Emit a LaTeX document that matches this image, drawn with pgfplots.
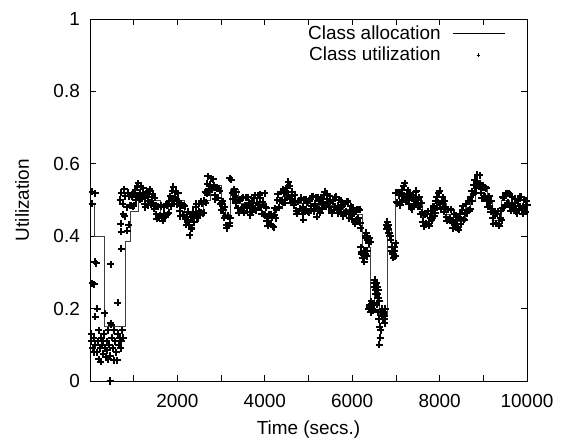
\documentclass[border=0pt]{standalone}
\usepackage{fontspec}
\setmainfont{Liberation Sans}
\usepackage{pgfplots}
\pgfplotsset{compat=1.18}
\newcommand{\ff}{\fontsize{19}{22}\selectfont}
\pgfplotsset{
  myleglinestyle/.style={legend image code/.code={\draw[black,line width=0.7bp] (0bp,0bp) -- (52bp,0bp);}},
  mylegmarkstyle/.style={legend image code/.code={\draw[black,mark=+,mark size=1.8bp,mark options={line width=0.7bp}] plot coordinates {(26bp,0bp)};}}
}
\begin{document}
\ff
\begin{tikzpicture}
\useasboundingbox (0,0) rectangle (565bp,445bp);
\begin{axis}[
  at={(90bp,64bp)}, anchor=south west,
  scale only axis, width=437bp, height=362bp,
  xmin=0, xmax=10000, ymin=0, ymax=1,
  scaled x ticks=false,
  xtick={1000,2000,...,10000},
  xticklabels={,2000,,4000,,6000,,8000,,10000},
  ytick={0,0.2,0.4,0.6,0.8,1},
  yticklabels={0,0.2,0.4,0.6,0.8,1},
  tick align=inside, tick pos=both,
  major tick length=6bp,
  axis line style={line width=0.8bp},
  every tick/.style={black, line width=0.8bp},
  tick label style={font=\ff, inner sep=0pt},
  /pgf/number format/assume math mode=true,
  xticklabel shift=13bp, yticklabel shift=10bp,
  xlabel={Time (secs.)}, ylabel={Utilization},
  label style={font=\ff},
  xlabel style={at={(axis description cs:0.5,-0.135)}, anchor=center},
  ylabel style={at={(axis description cs:-0.1556,0.5)}, anchor=center},
  legend style={draw=none, fill=none, at={(0.950,0.990)}, anchor=north east,
    font=\ff, nodes={inner sep=2.5bp}, column sep=9bp, row sep=0pt, inner sep=0pt},
  legend plot pos=right,
  legend cell align=right,
  clip=false,
]
\addplot[const plot, black!75, line width=0.7bp, myleglinestyle]
coordinates {
(0,0.49) (98,0.40) (327,0.15) (817,0.385) (915,0.47) (1100,0.51) (1400,0.50)
(1600,0.46) (1800,0.49) (2000,0.50) (2150,0.46) (2400,0.47) (2600,0.50)
(2750,0.54) (3000,0.48) (3100,0.46) (3219,0.53) (3400,0.49) (3800,0.49)
(4004,0.45) (4250,0.48) (4400,0.51) (4700,0.49) (5000,0.485) (5500,0.485)
(5800,0.475) (6000,0.46) (6231,0.37) (6407,0.19) (6510,0.245) (6620,0.18)
(6803,0.417) (6900,0.353) (6994,0.518) (7300,0.50) (7596,0.44) (7850,0.49)
(8150,0.46) (8250,0.44) (8600,0.48) (8700,0.50) (8809,0.55) (8950,0.53)
(9100,0.50) (9200,0.445) (9404,0.50) (9600,0.485) (10000,0.485)
};
\addlegendentry{Class allocation}
\addplot[only marks, mark=+, mark size=3.5bp, mark options={black, line width=2bp}, mylegmarkstyle]
table {
x y
46 0.523
121 0.518
46 0.49
107 0.33
145 0.325
473 0.322
46 0.27
92 0.267
168 0.20
122 0.178
335 0.187
640 0.216
717 0.366
700 0.434
717 0.412
855 0.415
885 0.431
458 0.0
23 0.13
23 0.11
60 0.09
90 0.12
120 0.10
150 0.08
180 0.11
200 0.14
230 0.09
245 0.053
260 0.12
280 0.10
300 0.075
320 0.13
340 0.09
360 0.065
380 0.11
400 0.085
420 0.14
440 0.10
460 0.07
473 0.16
490 0.155
500 0.12
520 0.09
540 0.057
560 0.14
580 0.11
600 0.08
620 0.057
640 0.13
660 0.10
680 0.12
700 0.09
720 0.11
740 0.14
760 0.12
200 0.06
100 0.08
300 0.11
420 0.06
690 0.50
720 0.52
750 0.49
780 0.53
810 0.51
840 0.48
870 0.52
760 0.46
800 0.455
900 0.510
933 0.485
967 0.509
1000 0.485
1033 0.527
1067 0.513
1100 0.546
1133 0.500
1167 0.537
1200 0.503
1233 0.516
1267 0.480
1300 0.514
1333 0.498
1367 0.529
1400 0.487
1433 0.517
1467 0.476
1500 0.486
1533 0.448
1567 0.481
1600 0.456
1633 0.486
1667 0.442
1700 0.480
1733 0.458
1767 0.486
1800 0.465
1833 0.511
1867 0.499
1900 0.536
1933 0.489
1967 0.523
2000 0.488
2033 0.496
2067 0.455
2100 0.484
2133 0.459
2167 0.483
2200 0.432
2233 0.467
2267 0.431
2288 0.403
2300 0.446
2333 0.422
2367 0.467
2400 0.456
2433 0.489
2467 0.449
2500 0.490
2533 0.465
2567 0.489
2600 0.465
2633 0.521
2667 0.519
2700 0.566
2733 0.522
2767 0.560
2800 0.528
2833 0.539
2867 0.502
2900 0.534
2933 0.506
2967 0.526
3000 0.472
3033 0.497
3067 0.451
3100 0.456
3133 0.422
3167 0.457
3200 0.436
3203 0.560
3233 0.556
3267 0.502
3300 0.530
3333 0.491
3367 0.503
3400 0.465
3433 0.501
3467 0.479
3500 0.506
3533 0.465
3567 0.507
3600 0.478
3633 0.493
3667 0.458
3700 0.494
3733 0.479
3767 0.513
3800 0.472
3833 0.513
3867 0.485
3900 0.506
3933 0.462
3967 0.487
4000 0.456
4004 0.518
4033 0.479
4067 0.429
4100 0.460
4133 0.431
4167 0.453
4200 0.425
4233 0.477
4267 0.473
4300 0.516
4333 0.479
4367 0.523
4400 0.498
4433 0.519
4467 0.492
4500 0.534
4538 0.550
4533 0.513
4567 0.539
4600 0.492
4633 0.523
4667 0.485
4700 0.496
4733 0.462
4767 0.497
4800 0.476
4833 0.506
4867 0.462
4881 0.445
4900 0.500
4933 0.471
4967 0.493
5000 0.465
5033 0.502
5067 0.483
5100 0.511
5110 0.510
5133 0.469
5167 0.508
5187 0.454
5200 0.478
5233 0.496
5267 0.465
5300 0.504
5333 0.489
5367 0.523
5400 0.482
5433 0.517
5467 0.481
5500 0.496
5533 0.463
5567 0.501
5600 0.481
5633 0.509
5667 0.464
5700 0.500
5733 0.468
5767 0.486
5800 0.455
5833 0.491
5867 0.469
5900 0.496
5933 0.449
5967 0.483
6000 0.448
6033 0.466
6067 0.435
6100 0.474
6133 0.449
6167 0.473
6190 0.422
6200 0.37
6220 0.35
6240 0.34
6260 0.36
6280 0.33
6300 0.35
6330 0.345
6350 0.36
6300 0.40
6320 0.41
6350 0.39
6380 0.38
6400 0.395
6420 0.385
6380 0.20
6400 0.21
6420 0.19
6440 0.22
6460 0.20
6480 0.195
6500 0.21
6500 0.26
6520 0.28
6540 0.24
6560 0.27
6580 0.23
6600 0.25
6620 0.22
6560 0.21
6590 0.19
6610 0.17
6630 0.15
6640 0.12
6620 0.10
6650 0.14
6670 0.19
6690 0.20
6700 0.17
6720 0.185
6740 0.16
6760 0.20
6780 0.43
6800 0.44
6820 0.41
6840 0.42
6860 0.40
6880 0.39
6900 0.37
6920 0.35
6940 0.34
6960 0.36
6980 0.345
7000 0.38
6210 0.355
6250 0.35
6270 0.345
6290 0.36
6310 0.395
6340 0.40
6370 0.39
6390 0.205
6430 0.205
6450 0.21
6470 0.215
6510 0.27
6530 0.25
6550 0.26
6570 0.24
6590 0.26
6610 0.23
6680 0.18
6710 0.19
6730 0.17
6750 0.18
6790 0.42
6810 0.425
6830 0.43
6850 0.41
6870 0.40
6910 0.36
6930 0.355
6950 0.35
6970 0.37
7000 0.520
7033 0.491
7067 0.513
7100 0.485
7133 0.527
7167 0.513
7200 0.546
7233 0.495
7267 0.527
7300 0.488
7333 0.506
7367 0.475
7400 0.514
7433 0.496
7467 0.526
7500 0.482
7533 0.507
7567 0.461
7600 0.466
7633 0.428
7667 0.461
7700 0.436
7733 0.469
7767 0.429
7800 0.470
7833 0.451
7867 0.483
7900 0.465
7933 0.507
7967 0.493
8000 0.526
8033 0.475
8067 0.507
8100 0.468
8133 0.479
8167 0.442
8200 0.474
8233 0.449
8267 0.473
8300 0.422
8333 0.460
8367 0.428
8400 0.446
8433 0.418
8467 0.461
8500 0.446
8533 0.483
8567 0.445
8600 0.490
8633 0.468
8667 0.496
8700 0.475
8733 0.524
8767 0.516
8800 0.556
8833 0.532
8867 0.570
8900 0.538
8933 0.546
8967 0.505
9000 0.534
9033 0.509
9067 0.533
9100 0.482
9133 0.510
9167 0.468
9200 0.476
9233 0.435
9267 0.464
9300 0.436
9333 0.469
9367 0.429
9400 0.470
9433 0.478
9467 0.506
9500 0.485
9533 0.517
9567 0.493
9600 0.516
9633 0.470
9667 0.507
9700 0.473
9733 0.493
9767 0.463
9800 0.504
9833 0.483
9867 0.509
9900 0.462
9933 0.500
9967 0.468
10000 0.486
917 0.484
950 0.515
984 0.483
1017 0.518
1050 0.499
1084 0.539
1117 0.510
1150 0.520
1184 0.511
1217 0.533
1250 0.490
1284 0.513
1317 0.486
1350 0.524
1384 0.493
1417 0.507
1450 0.491
1484 0.506
1517 0.460
1550 0.481
1584 0.453
1617 0.482
1650 0.450
1684 0.462
1717 0.454
1750 0.488
1784 0.460
1817 0.498
1850 0.483
1884 0.525
1917 0.500
1950 0.509
1984 0.497
2017 0.518
2050 0.470
2084 0.488
2117 0.456
2150 0.485
2184 0.447
2217 0.452
2250 0.441
2284 0.461
2317 0.420
2350 0.455
2384 0.439
2417 0.482
2450 0.453
2484 0.469
2517 0.464
2550 0.495
2584 0.463
2617 0.498
2650 0.493
2684 0.545
2717 0.530
2750 0.542
2784 0.534
2817 0.558
2850 0.513
2884 0.535
2917 0.506
2950 0.532
2984 0.490
3017 0.492
3050 0.471
3084 0.481
3117 0.430
3150 0.455
3184 0.429
3210 0.450
3250 0.520
3284 0.522
3317 0.504
3350 0.521
3384 0.477
3417 0.498
3450 0.473
3484 0.505
3517 0.470
3550 0.485
3584 0.481
3617 0.508
3650 0.467
3684 0.491
3717 0.466
3750 0.505
3784 0.477
3817 0.492
3850 0.487
3884 0.515
3917 0.480
3950 0.495
3984 0.459
4017 0.482
4050 0.443
4084 0.449
4117 0.434
4150 0.461
4184 0.427
4217 0.458
4250 0.449
4284 0.499
4317 0.480
4350 0.499
4384 0.497
4417 0.528
4450 0.493
4484 0.525
4517 0.506
4550 0.539
4584 0.503
4617 0.512
4650 0.497
4684 0.515
4717 0.470
4750 0.495
4784 0.469
4817 0.502
4850 0.470
4884 0.482
4917 0.474
4950 0.501
4984 0.467
5017 0.498
5050 0.474
5084 0.509
5117 0.475
5150 0.489
5184 0.482
5217 0.508
5250 0.470
5284 0.498
5317 0.476
5350 0.515
5384 0.487
5417 0.502
5450 0.491
5484 0.511
5517 0.470
5550 0.496
5584 0.473
5617 0.507
5650 0.473
5684 0.484
5717 0.474
5750 0.498
5784 0.460
5817 0.488
5850 0.463
5884 0.495
5917 0.460
5950 0.469
5984 0.457
6017 0.478
6050 0.440
6084 0.468
6117 0.446
6150 0.475
6180 0.437
7017 0.494
7050 0.521
7084 0.487
7117 0.518
7150 0.499
7184 0.539
7217 0.510
7250 0.515
7284 0.501
7317 0.518
7350 0.480
7384 0.508
7417 0.486
7450 0.522
7484 0.490
7517 0.502
7550 0.481
7584 0.491
7617 0.440
7650 0.461
7684 0.433
7717 0.462
7750 0.433
7784 0.449
7817 0.444
7850 0.481
7884 0.457
7917 0.498
7950 0.479
7984 0.519
8017 0.490
8050 0.495
8084 0.481
8117 0.498
8150 0.453
8184 0.475
8217 0.446
8250 0.475
8284 0.437
8317 0.442
8350 0.434
8384 0.458
8417 0.420
8450 0.451
8484 0.433
8517 0.472
8550 0.447
8584 0.465
8617 0.464
8650 0.498
8684 0.470
8717 0.508
8750 0.496
8784 0.542
8817 0.520
8850 0.552
8884 0.544
8917 0.568
8950 0.520
8984 0.538
9017 0.506
9050 0.535
9084 0.497
9117 0.502
9150 0.484
9184 0.498
9217 0.450
9250 0.468
9284 0.436
9317 0.462
9350 0.433
9384 0.449
9417 0.444
9450 0.508
9484 0.480
9517 0.518
9550 0.489
9584 0.519
9617 0.480
9650 0.490
9684 0.481
9717 0.503
9750 0.467
9784 0.496
9817 0.476
9850 0.509
9884 0.473
9917 0.482
9950 0.474
9984 0.498
};
\addlegendentry{Class utilization}
\end{axis}
\end{tikzpicture}
\end{document}
